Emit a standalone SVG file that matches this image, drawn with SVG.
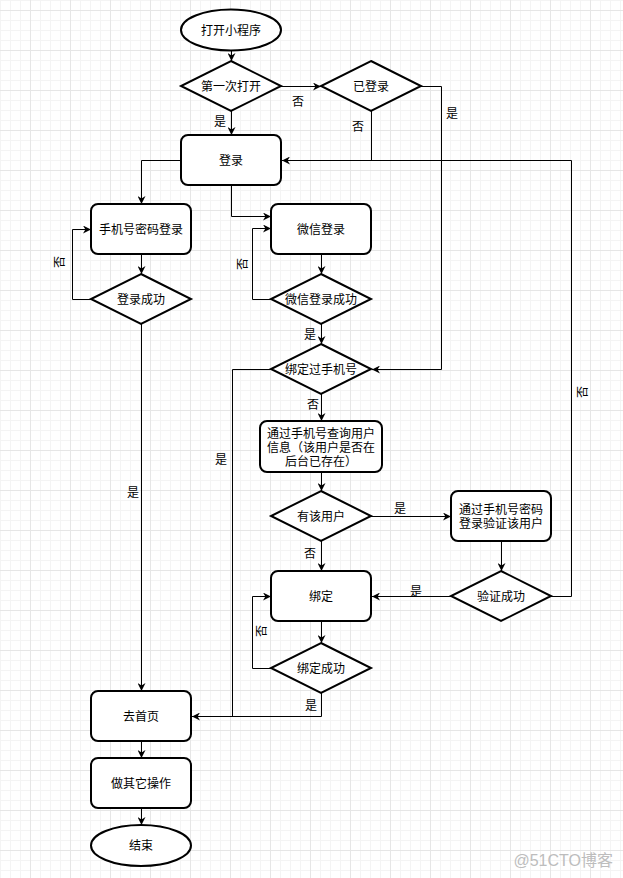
<svg xmlns="http://www.w3.org/2000/svg" width="623" height="878" viewBox="0 0 623 878">
<style>
  .node { fill: #ffffff; stroke: #000000; stroke-width: 2; }
  .edge { fill: none; stroke: #000000; stroke-width: 1; }
  .t { font-family: "Liberation Sans", "Noto Sans CJK SC", sans-serif; font-size: 12px; fill: #000000; text-anchor: middle; }
  .wm { font-family: "Liberation Sans", "Noto Sans CJK SC", sans-serif; font-size: 16px; fill: #bdbdbd; text-anchor: end; }
</style>
<defs>
  <pattern id="minor" width="10" height="10" patternUnits="userSpaceOnUse" x="0" y="0">
    <path d="M0.5,0 V10 M0,0.5 H10" stroke="#f4f4f4" stroke-width="1" fill="none"/>
  </pattern>
  <pattern id="major" width="40" height="40" patternUnits="userSpaceOnUse" x="30" y="10">
    <path d="M0.5,0 V40 M0,0.5 H40" stroke="#e6e6e6" stroke-width="1" fill="none"/>
  </pattern>
  <marker id="arr" viewBox="0 0 10 10" refX="10" refY="5" markerWidth="9" markerHeight="8" markerUnits="userSpaceOnUse" orient="auto">
    <path d="M0,0 L10,5 L0,10 L3,5 Z" fill="#000000"/>
  </marker>
</defs>
<rect width="623" height="878" fill="#ffffff"/>
<rect width="623" height="878" fill="url(#minor)"/>
<rect width="623" height="878" fill="url(#major)"/>

<g id="connectors">
  <path class="edge" d="M231.5,51 V61" marker-end="url(#arr)"/>
  <path class="edge" d="M281,86.5 H321" marker-end="url(#arr)"/>
  <path class="edge" d="M421,86.5 H441.5 V369.5 H372" marker-end="url(#arr)"/>
  <path class="edge" d="M371.5,111 V160.5"/>
  <path class="edge" d="M231.5,111 V135" marker-end="url(#arr)"/>
  <path class="edge" d="M551,596.5 H571.5 V160.5 H282" marker-end="url(#arr)"/>
  <path class="edge" d="M181,160.5 H141.5 V204" marker-end="url(#arr)"/>
  <path class="edge" d="M231.5,185 V216.5 H271" marker-end="url(#arr)"/>
  <path class="edge" d="M141.5,254 V274" marker-end="url(#arr)"/>
  <path class="edge" d="M91,299.5 H72.5 V229.5 H91" marker-end="url(#arr)"/>
  <path class="edge" d="M141.5,324 V691" marker-end="url(#arr)"/>
  <path class="edge" d="M321.5,254 V274" marker-end="url(#arr)"/>
  <path class="edge" d="M271,299.5 H252.5 V228.5 H271" marker-end="url(#arr)"/>
  <path class="edge" d="M321.5,324 V344" marker-end="url(#arr)"/>
  <path class="edge" d="M271,369.5 H232.5 V716.5"/>
  <path class="edge" d="M321.5,394 V421" marker-end="url(#arr)"/>
  <path class="edge" d="M321.5,472 V491" marker-end="url(#arr)"/>
  <path class="edge" d="M371,516.5 H451" marker-end="url(#arr)"/>
  <path class="edge" d="M321.5,541 V571" marker-end="url(#arr)"/>
  <path class="edge" d="M501.5,541 V571" marker-end="url(#arr)"/>
  <path class="edge" d="M451,596.5 H372" marker-end="url(#arr)"/>
  <path class="edge" d="M321.5,621 V643" marker-end="url(#arr)"/>
  <path class="edge" d="M271,668.5 H252.5 V596.5 H271" marker-end="url(#arr)"/>
  <path class="edge" d="M321.5,693 V716.5 H192" marker-end="url(#arr)"/>
  <path class="edge" d="M141.5,741 V758" marker-end="url(#arr)"/>
  <path class="edge" d="M141.5,808 V825" marker-end="url(#arr)"/>

  <text class="t" x="298" y="105.5">否</text>
  <text class="t" x="452" y="117.5">是</text>
  <text class="t" x="358" y="130.5">否</text>
  <text class="t" x="220" y="125.5">是</text>
  <text class="t" x="59" y="266.5" transform="rotate(-90 59 262)">否</text>
  <text class="t" x="242" y="268.5" transform="rotate(-90 242 264)">否</text>
  <text class="t" x="310" y="338.5">是</text>
  <text class="t" x="133" y="496.5">是</text>
  <text class="t" x="221" y="463.5">是</text>
  <text class="t" x="313" y="408.5">否</text>
  <text class="t" x="400" y="512.5">是</text>
  <text class="t" x="310" y="557.5">否</text>
  <text class="t" x="416" y="595.5">是</text>
  <text class="t" x="582" y="396.5" transform="rotate(-90 582 392)">否</text>
  <text class="t" x="261" y="635.5" transform="rotate(-90 261 631)">否</text>
  <text class="t" x="311" y="709.5">是</text>
</g>

<g id="start"><ellipse class="node" cx="231" cy="30" rx="50" ry="20.5"/><text class="t" x="231" y="34.5">打开小程序</text></g>
<g id="firstOpen"><polygon class="node" points="231,61 281,86 231,111 181,86"/><text class="t" x="231" y="90.5">第一次打开</text></g>
<g id="loggedIn"><polygon class="node" points="371,61 421,86 371,111 321,86"/><text class="t" x="371" y="90.5">已登录</text></g>
<g id="login"><rect class="node" x="181" y="135" width="100" height="50" rx="7"/><text class="t" x="231" y="164.5">登录</text></g>
<g id="pwdLogin"><rect class="node" x="91" y="204" width="100" height="50" rx="7"/><text class="t" x="141" y="233.5">手机号密码登录</text></g>
<g id="loginOk"><polygon class="node" points="141,274 191,299 141,324 91,299"/><text class="t" x="141" y="303.5">登录成功</text></g>
<g id="wxLogin"><rect class="node" x="271" y="204" width="100" height="50" rx="7"/><text class="t" x="321" y="233.5">微信登录</text></g>
<g id="wxLoginOk"><polygon class="node" points="321,274 371,299 321,324 271,299"/><text class="t" x="321" y="303.5">微信登录成功</text></g>
<g id="boundPhone"><polygon class="node" points="321,344 371,369 321,394 271,369"/><text class="t" x="321" y="373.5">绑定过手机号</text></g>
<g id="queryUser"><rect class="node" x="260" y="421" width="122" height="51" rx="7"/>
  <text class="t" x="321" y="437.5"><tspan x="321" y="437.5">通过手机号查询用户</tspan><tspan x="321" y="451.5">信息（该用户是否在</tspan><tspan x="321" y="465.5">后台已存在）</tspan></text></g>
<g id="hasUser"><polygon class="node" points="321,491 371,516 321,541 271,516"/><text class="t" x="321" y="520.5">有该用户</text></g>
<g id="verifyPwd"><rect class="node" x="451" y="491" width="100" height="50" rx="7"/>
  <text class="t" x="501" y="513.5"><tspan x="501" y="513.5">通过手机号密码</tspan><tspan x="501" y="527.5">登录验证该用户</tspan></text></g>
<g id="bind"><rect class="node" x="271" y="571" width="100" height="50" rx="7"/><text class="t" x="321" y="600.5">绑定</text></g>
<g id="verifyOk"><polygon class="node" points="501,571 551,596 501,621 451,596"/><text class="t" x="501" y="600.5">验证成功</text></g>
<g id="bindOk"><polygon class="node" points="321,643 371,668 321,693 271,668"/><text class="t" x="321" y="672.5">绑定成功</text></g>
<g id="home"><rect class="node" x="91" y="691" width="100" height="50" rx="7"/><text class="t" x="141" y="720.5">去首页</text></g>
<g id="other"><rect class="node" x="91" y="758" width="100" height="50" rx="7"/><text class="t" x="141" y="787.5">做其它操作</text></g>
<g id="end"><ellipse class="node" cx="141" cy="845.5" rx="50" ry="20.5"/><text class="t" x="141" y="849.5">结束</text></g>

<text class="wm" x="613" y="866">@51CTO博客</text>
</svg>
